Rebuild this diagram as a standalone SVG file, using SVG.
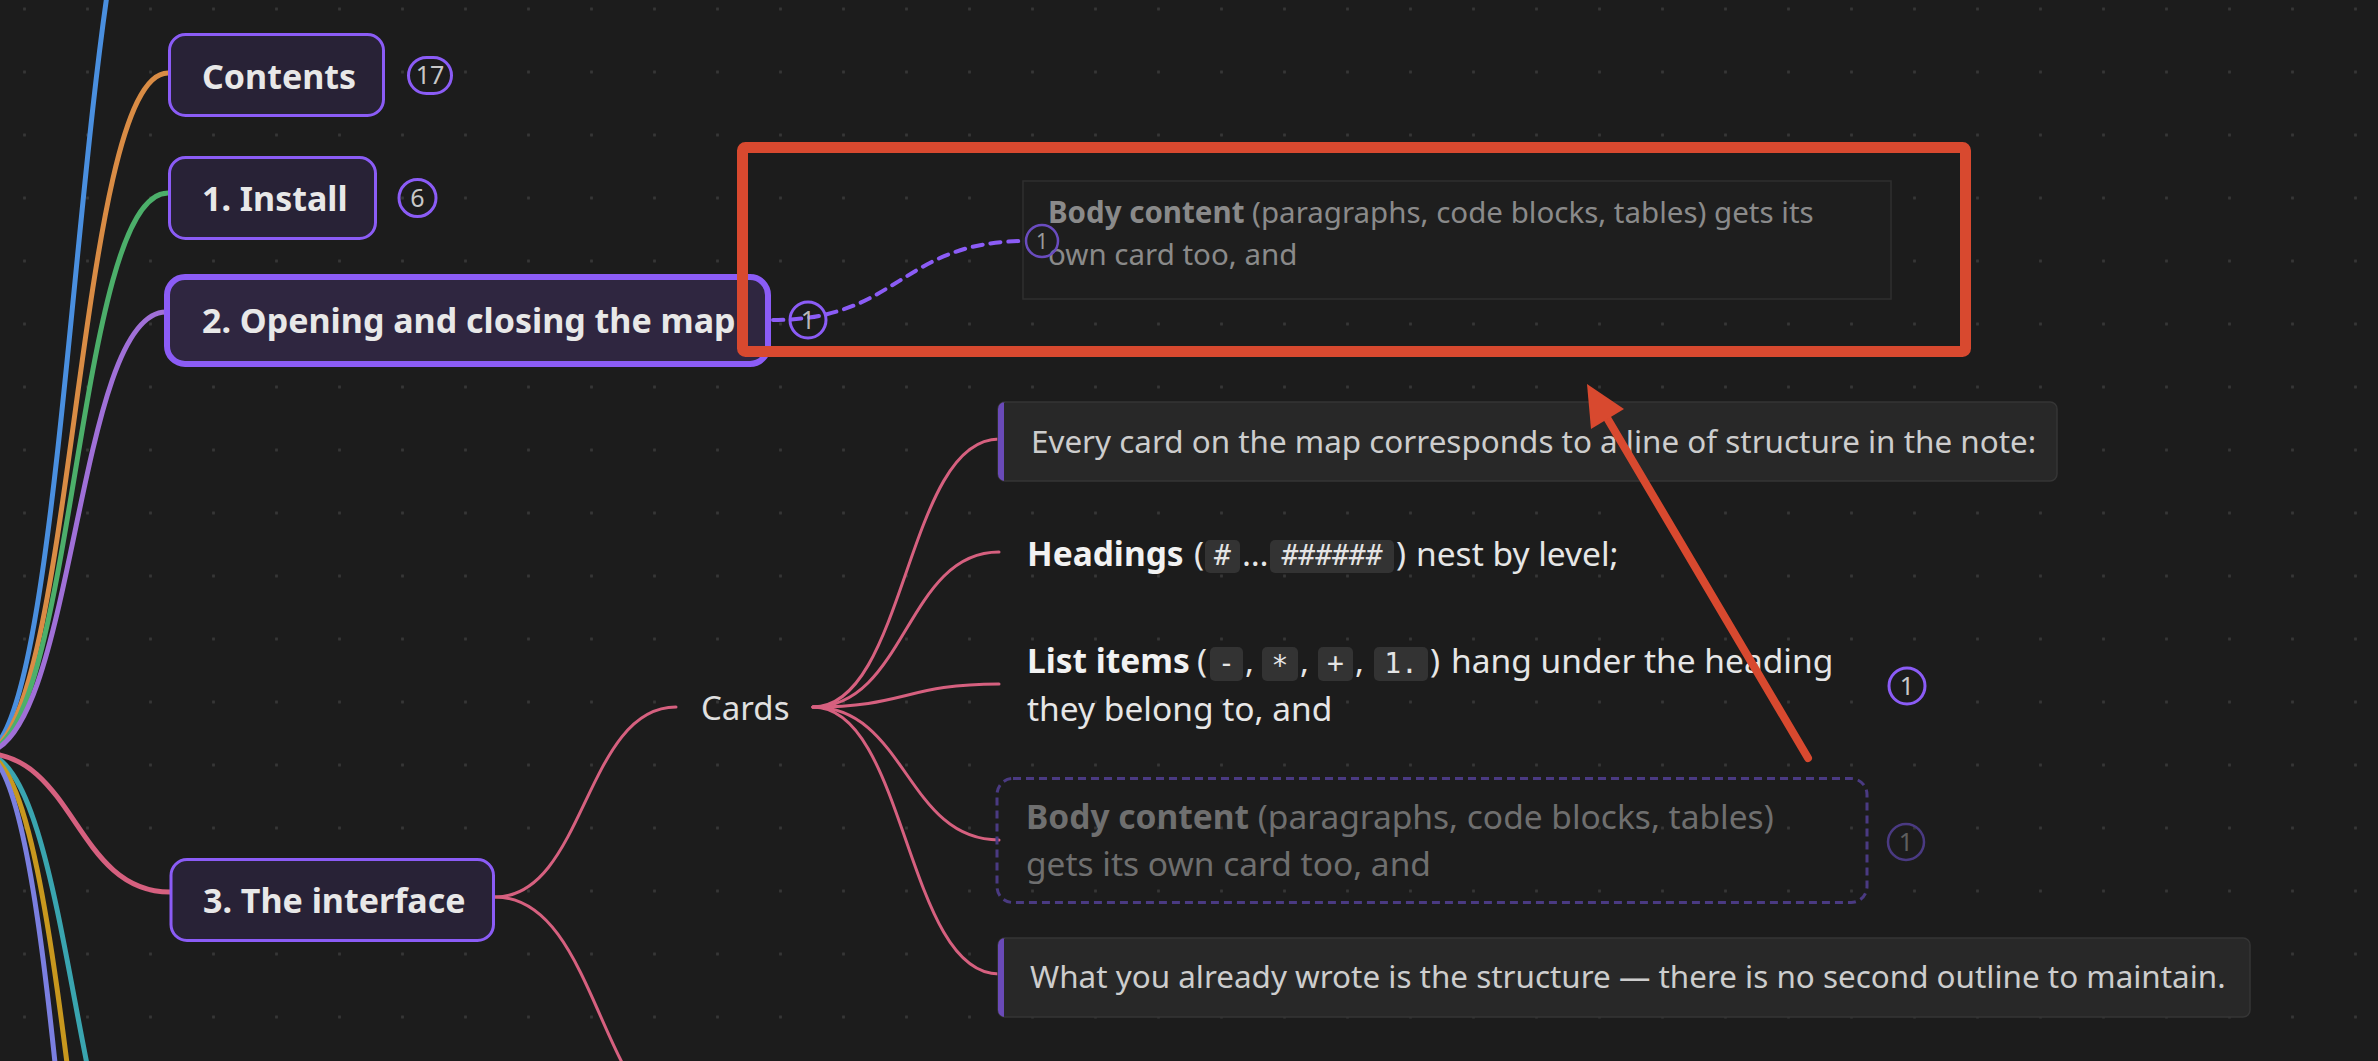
<svg xmlns="http://www.w3.org/2000/svg" width="2378" height="1061" viewBox="0 0 2378 1061">
<defs>
<pattern id="grid" x="23" y="7.5" width="63" height="63" patternUnits="userSpaceOnUse">
<rect width="3" height="3" rx="1" fill="#363636"/>
</pattern>
<style>
text{font-family:"Noto Sans","DejaVu Sans",sans-serif}
.title{font-size:34px;font-weight:700;fill:#e8e8e8}
.box{fill:#282236;stroke:#8b5cf6;stroke-width:3}
.badge{fill:none;stroke:#8b5cf6;stroke-width:3}
.badgetxt{font-size:25px;fill:#c8c8c8;text-anchor:middle}
.br{fill:none;stroke-width:5;stroke-linecap:round}
.pk{fill:none;stroke:#d6607f;stroke-width:3;stroke-linecap:round}
.plain{font-size:33.5px;fill:#e6e6e6}
.bold{font-weight:700;fill:#f2f2f2}
.cardtxt{font-size:31.4px;fill:#cdcdcd}
.card{fill:#282828;stroke:#353535;stroke-width:1.5}
.bar{fill:#6a4ab8}
.chip{fill:#333333}
.mono{font-family:"DejaVu Sans Mono","Liberation Mono",monospace;font-size:28px;fill:#e4e4e4;text-anchor:middle}
.ghost2{font-size:33.5px;fill:#6f6f6f}
.ghost1{font-size:29.5px;fill:#8a8a8a}
</style>
</defs>
<rect width="2378" height="1061" fill="#1c1c1c"/>
<rect width="2378" height="1061" fill="url(#grid)"/>

<g id="connectors">
<path class="br" stroke="#4a8fdf" d="M -18 753 C 75 753, 75 -190, 168 -190"/>
<path class="br" stroke="#d98c45" d="M -18 753 C 75 753, 75 73, 168 73"/>
<path class="br" stroke="#4caf6a" d="M -18 753 C 75 753, 75 193, 168 193"/>
<path class="br" stroke="#a070d8" d="M -18 753 C 75 753, 75 312, 166 312"/>
<path class="br" stroke="#3aa5b0" d="M -18 753 C 75 753, 75 1250, 168 1250"/>
<path class="br" stroke="#c8981e" d="M -18 753 C 75 753, 75 1500, 168 1500"/>
<path class="br" stroke="#7b7fe0" d="M -18 753 C 75 753, 75 1800, 168 1800"/>
<path class="br" stroke="#d6607f" stroke-width="6" d="M -18 753 C 75 753, 75 892, 170 892"/>
<path class="pk" stroke-width="4" d="M 495 897 C 585 897, 585 707, 676 707"/>
<path class="pk" stroke-width="4" d="M 495 897 C 600 897, 600 1130, 700 1130"/>
<path class="pk" d="M 813 707 C 906 707, 906 439, 999 439"/>
<path class="pk" d="M 813 707 C 906 707, 906 552, 999 552"/>
<path class="pk" d="M 813 707 C 906 707, 906 684, 999 684"/>
<path class="pk" d="M 813 707 C 906 707, 906 840, 999 840"/>
<path class="pk" d="M 813 707 C 906 707, 906 974, 999 974"/>
<path fill="none" stroke="#8b5cf6" stroke-width="4" stroke-dasharray="10 8" stroke-linecap="round" d="M 773 320 C 900 320, 900 241, 1026 241"/>
</g>

<g id="node-contents">
<rect class="box" x="169.5" y="34.5" width="214" height="81" rx="16"/>
<text class="title" x="202" y="89">Contents</text>
<rect class="badge" x="408.5" y="57.5" width="43" height="36" rx="18"/>
<text class="badgetxt" x="430" y="84">17</text>
</g>

<g id="node-install">
<rect class="box" x="169.5" y="157.5" width="206" height="81" rx="16"/>
<text class="title" x="202" y="211">1. Install</text>
<circle class="badge" cx="417.5" cy="198" r="18.5"/>
<text class="badgetxt" x="417.5" y="207">6</text>
</g>

<g id="node-opening">
<rect class="box" x="167" y="277" width="601" height="87" rx="18" style="fill:#2f2640;stroke-width:6"/>
<text class="title" x="202" y="333">2. Opening and closing the map</text>
<circle class="badge" cx="808" cy="320" r="18"/>
<text class="badgetxt" x="808" y="329" style="fill:#b8b8b8">1</text>
</g>

<g id="node-ghost-preview">
<rect x="1023" y="181" width="868" height="118" fill="#1e1e1e" stroke="#2f2f2f" stroke-width="1.5"/>
<text class="ghost1" x="1048" y="223"><tspan font-weight="700">Body content</tspan> (paragraphs, code blocks, tables) gets its</text>
<text class="ghost1" x="1048" y="265">own card too, and</text>
<circle cx="1042" cy="241" r="16" fill="none" stroke="#6a4cc0" stroke-width="2.5"/>
<text class="badgetxt" x="1042" y="249" style="font-size:21px;fill:#9a9a9a">1</text>
</g>

<g id="node-interface">
<rect class="box" x="171" y="859.5" width="322.5" height="81" rx="16"/>
<text class="title" x="203" y="913">3. The interface</text>
</g>

<g id="node-cards">
<text x="701" y="720" style="font-size:33px;fill:#e0e0e0">Cards</text>
</g>

<g id="node-card-every">
<rect class="card" x="998" y="402" width="1059" height="79" rx="7"/>
<path class="bar" d="M 1004 402 L 1004 481 L 1005 481 A 7 7 0 0 1 998 474 L 998 409 A 7 7 0 0 1 1005 402 Z"/>
<text class="cardtxt" x="1031" y="453">Every card on the map corresponds to a line of structure in the note:</text>
</g>

<g id="node-card-headings">
<rect class="chip" x="1205" y="540" width="35" height="33" rx="5"/>
<rect class="chip" x="1270" y="540" width="124" height="33" rx="5"/>
<text class="plain" x="1027" y="566"><tspan class="bold">Headings</tspan></text>
<text class="plain" x="1194" y="566">(</text>
<text class="mono" x="1222.5" y="565">#</text>
<text class="plain" x="1242" y="566">…</text>
<text class="mono" x="1332" y="565">######</text>
<text class="plain" x="1396" y="566">)</text>
<text class="plain" x="1416" y="566">nest by level;</text>
</g>

<g id="node-card-list">
<rect class="chip" x="1210" y="647" width="33" height="34" rx="5"/>
<rect class="chip" x="1262" y="647" width="36" height="34" rx="5"/>
<rect class="chip" x="1318" y="647" width="35" height="34" rx="5"/>
<rect class="chip" x="1374" y="647" width="54" height="34" rx="5"/>
<text class="plain" x="1027" y="673"><tspan class="bold">List items</tspan></text>
<text class="plain" x="1197" y="673">(</text>
<text class="mono" x="1226.5" y="673">-</text>
<text class="plain" x="1245" y="673">,</text>
<text class="mono" x="1280" y="675">*</text>
<text class="plain" x="1300" y="673">,</text>
<text class="mono" x="1335.5" y="673">+</text>
<text class="plain" x="1355" y="673">,</text>
<text class="mono" x="1401" y="673">1.</text>
<text class="plain" x="1430" y="673">)</text>
<text class="plain" x="1451" y="673">hang under the heading</text>
<text class="plain" x="1027" y="721">they belong to, and</text>
<circle class="badge" cx="1907" cy="686" r="18"/>
<text class="badgetxt" x="1907" y="695">1</text>
</g>

<g id="node-card-body-ghost">
<rect x="997" y="778.5" width="870" height="124" rx="16" fill="none" stroke="#4a3a82" stroke-width="3" stroke-dasharray="8 5"/>
<text class="ghost2" x="1026" y="829"><tspan font-weight="700">Body content</tspan> (paragraphs, code blocks, tables)</text>
<text class="ghost2" x="1026" y="876">gets its own card too, and</text>
<circle cx="1906" cy="842" r="18" fill="none" stroke="#4a3a82" stroke-width="2.5"/>
<text class="badgetxt" x="1906" y="851" style="fill:#5e5e5e">1</text>
</g>

<g id="node-card-what">
<rect class="card" x="998" y="938" width="1252" height="79" rx="7"/>
<path class="bar" d="M 1004 938 L 1004 1017 L 1005 1017 A 7 7 0 0 1 998 1010 L 998 945 A 7 7 0 0 1 1005 938 Z"/>
<text class="cardtxt" x="1030" y="988">What you already wrote is the structure — there is no second outline to maintain.</text>
</g>

<g id="annotation">
<rect x="742.5" y="147.5" width="1223" height="204" rx="3" fill="none" stroke="#d8492f" stroke-width="11"/>
<line x1="1808" y1="758" x2="1600" y2="406" stroke="#d8492f" stroke-width="8" stroke-linecap="round"/>
<polygon points="1587,384 1591,429 1624,409" fill="#d8492f"/>
</g>
</svg>
